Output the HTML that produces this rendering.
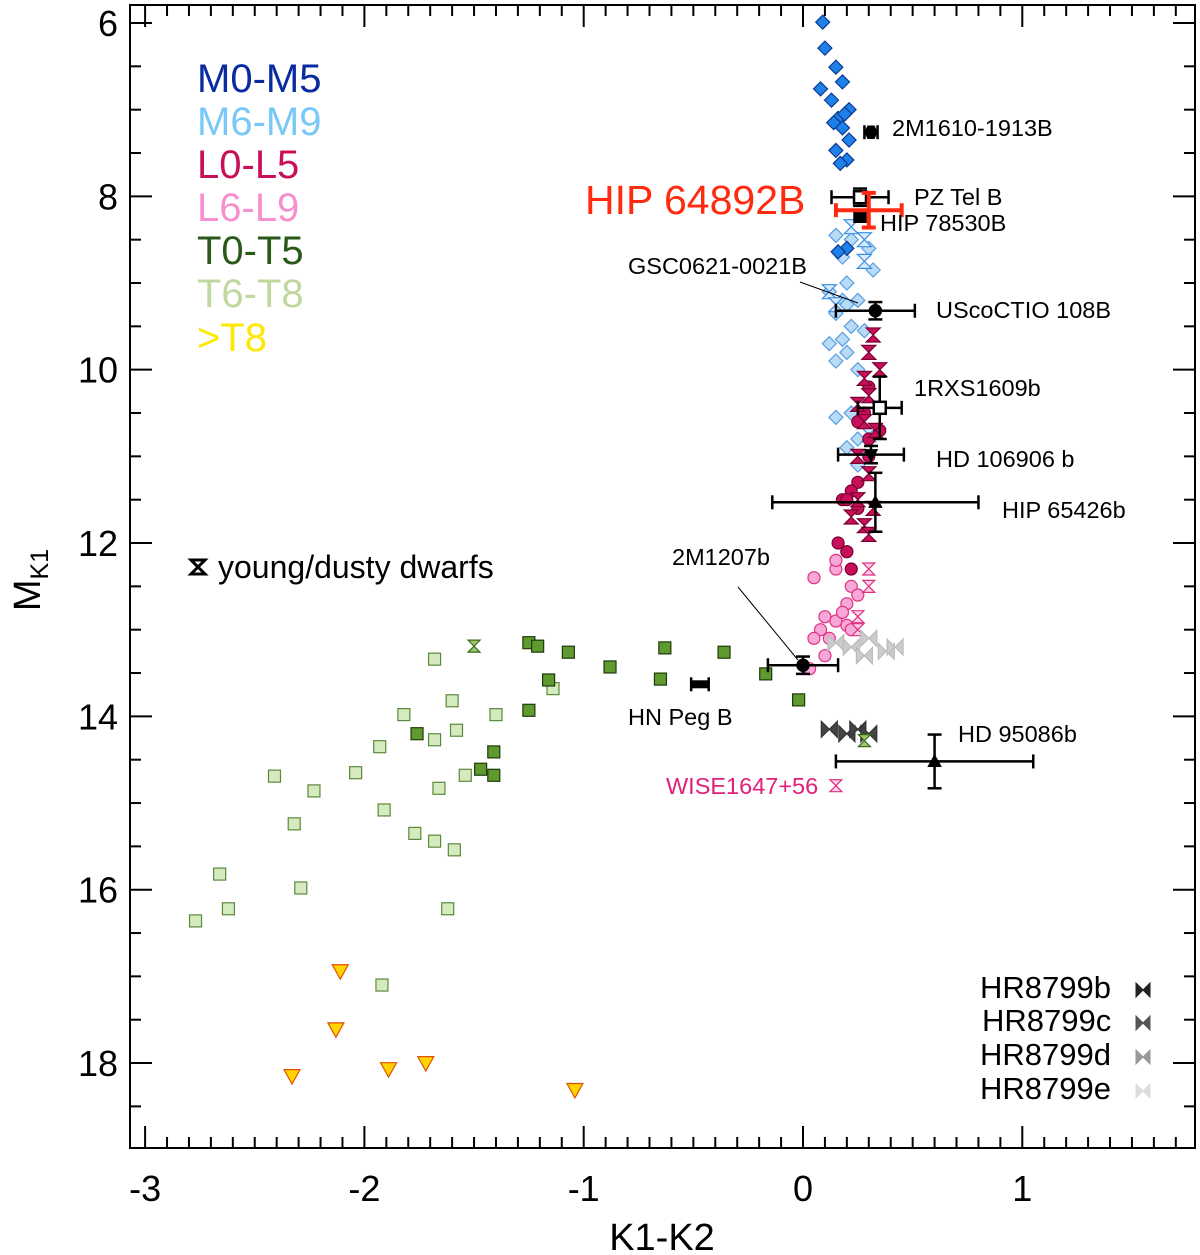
<!DOCTYPE html>
<html><head><meta charset="utf-8"><style>
body{margin:0;background:#fff}
svg{display:block;font-family:"Liberation Sans",Arial,sans-serif}
</style></head><body>
<svg id="chart" width="1200" height="1255" viewBox="0 0 1200 1255">
<g id="axes"></g>
<g id="marks"></g>
<g id="annot"></g>
</svg>
<script>
const xTicks=[-3,-2,-1,0,1];
const yTicks=[6,8,10,12,14,16,18];
const m0m5=[[0.09,5.99],[0.10,6.29],[0.15,6.51],[0.18,6.68],[0.08,6.76],[0.13,6.89],[0.16,7.10],[0.21,7.00],[0.18,7.21],[0.21,7.35],[0.15,7.47],[0.20,7.58],[0.17,7.62],[0.20,8.60],[0.16,8.64],[0.14,7.15],[0.19,7.05]];
const m6m9=[[0.15,8.45],[0.22,8.5],[0.30,8.6],[0.18,8.7],[0.32,8.85],[0.2,9.0],[0.12,9.1],[0.25,9.2],[0.15,9.35],[0.22,9.5],[0.28,9.55],[0.18,9.65],[0.12,9.7],[0.2,9.8],[0.15,9.9],[0.25,10.0],[0.22,10.5],[0.15,10.55],[0.25,10.8],[0.2,10.9],[0.25,11.1],[0.18,9.2],[0.2,9.25]];
const m6m9Y=[[0.22,8.35],[0.28,8.5],[0.12,9.1],[0.15,9.25],[0.3,10.75],[0.28,8.75]];
const l0l5=[[0.16,12.0],[0.2,12.1],[0.22,12.3],[0.25,11.3],[0.3,11.0],[0.22,11.4],[0.18,11.5],[0.25,11.6],[0.3,10.2],[0.28,10.5],[0.3,10.8],[0.25,10.6],[0.35,10.7],[0.2,11.5]];
const l0l5Y=[[0.32,9.6],[0.3,9.8],[0.35,10.0],[0.28,10.1],[0.3,10.3],[0.25,10.4],[0.28,10.6],[0.33,10.7],[0.25,11.0],[0.3,11.2],[0.25,11.5],[0.32,11.6],[0.28,11.8],[0.3,11.9],[0.22,11.7]];
const l6l9=[[0.05,12.4],[0.15,12.3],[0.2,12.1],[0.22,12.5],[0.2,12.7],[0.1,12.85],[0.15,12.9],[0.08,13.0],[0.12,13.1],[0.2,12.95],[0.05,13.1],[0.25,12.6],[0.1,13.3],[0.03,13.45],[0.18,12.8],[0.22,13.0],[0.15,12.2]];
const l6l9Y=[[0.3,12.3],[0.3,12.5],[0.25,12.85],[0.25,13.0],[0.15,14.8]];
const t0t5=[[-1.25,13.15],[-1.21,13.19],[-1.07,13.26],[-0.88,13.43],[-0.63,13.21],[-0.36,13.26],[-1.16,13.58],[-1.25,13.93],[-0.65,13.57],[-0.17,13.51],[-0.02,13.81],[-1.76,14.20],[-1.41,14.41],[-1.47,14.61],[-1.41,14.68]];
const t0t5Y=[[-1.50,13.19],[0.28,14.28]];
const t6t8=[[-1.68,13.34],[-1.14,13.68],[-1.60,13.82],[-1.82,13.98],[-1.40,13.98],[-1.58,14.16],[-1.68,14.27],[-1.93,14.35],[-2.04,14.65],[-1.54,14.68],[-2.41,14.69],[-2.23,14.86],[-1.66,14.83],[-1.91,15.08],[-2.32,15.24],[-1.77,15.35],[-1.68,15.44],[-1.59,15.54],[-2.66,15.82],[-2.29,15.98],[-2.62,16.22],[-2.77,16.36],[-1.62,16.22],[-1.92,17.10]];
const yT8=[[-2.11,16.94],[-2.13,17.61],[-2.33,18.15],[-1.89,18.07],[-1.72,18.00],[-1.04,18.31]];
const hrLight=[[0.15,13.15],[0.22,13.2],[0.3,13.1],[0.38,13.25],[0.42,13.2],[0.28,13.3]];
const hrDark=[[0.12,14.15],[0.2,14.2],[0.25,14.15],[0.3,14.2]];
const objX=[0.31,0.26,0.26,0.30,0.33,0.35,0.31,0.33,0.0,-0.47,0.60];
const objY=[7.26,8.01,8.23,8.16,9.32,10.44,10.98,11.53,13.41,13.63,14.52];
const objXe=[0.03,0.13,0.0,0.15,0.18,0.10,0.15,0.47,0.16,0.04,0.45];
const objYe=[0.0,0.1,0.0,0.2,0.1,0.36,0.1,0.34,0.1,0.0,0.31];
const objM=['hex','osq','sq','none','circ','osq','tdown','tup','circ','none','tup'];

const NS='http://www.w3.org/2000/svg';
const X=v=>803+v*219.3, Y=v=>23+(v-6)*86.67;
const L=130,R=1195,T=5,B=1148;
function el(p,tag,a){const e=document.createElementNS(NS,tag);for(const k in a)e.setAttribute(k,a[k]);p.appendChild(e);return e;}
const ax=document.getElementById('axes'),mk=document.getElementById('marks'),an=document.getElementById('annot');
const frame=el(ax,'rect',{x:L,y:T,width:R-L,height:B-T,fill:'none',stroke:'#000','stroke-width':2});

for(let v=-3.0;v<=1.75;v+=0.1){const big=Math.abs(v-Math.round(v))<1e-6;const l=big?22:11;const x=X(v);
 el(ax,'line',{x1:x,x2:x,y1:B,y2:B-l,stroke:'#000','stroke-width':2});el(ax,'line',{x1:x,x2:x,y1:T,y2:T+l,stroke:'#000','stroke-width':2});}
for(let v=6;v<=18.9;v+=0.5){const big=v%2===0;const l=big?22:11;const y=Y(v);
 el(ax,'line',{x1:L,x2:L+l,y1:y,y2:y,stroke:'#000','stroke-width':2});el(ax,'line',{x1:R,x2:R-l,y1:y,y2:y,stroke:'#000','stroke-width':2});}
xTicks.forEach(v=>{const t=el(ax,'text',{x:X(v),y:1201,'font-size':36,'text-anchor':'middle'});t.textContent=v;
 });
yTicks.forEach(v=>{const t=el(ax,'text',{x:118,y:Y(v)+13,'font-size':36,'text-anchor':'end'});t.textContent=v;
 });
const xt=el(ax,'text',{x:662,y:1250,'font-size':38,'text-anchor':'middle'});xt.textContent='K1-K2';

const yt=el(ax,'text',{transform:'translate(40,580) rotate(-90)','font-size':38,'text-anchor':'middle'});
yt.innerHTML='M<tspan font-size="25" dy="8">K1</tspan>';


function marker(g,type,x,y,s,fill,stroke,sw){let e;
 if(type==='diam')e=el(g,'path',{d:`M${x},${y-s}L${x+s},${y}L${x},${y+s}L${x-s},${y}Z`});
 else if(type==='circ')e=el(g,'circle',{cx:x,cy:y,r:s});
 else if(type==='sq'||type==='osq')e=el(g,'rect',{x:x-s,y:y-s,width:2*s,height:2*s});
 else if(type==='hg')e=el(g,'path',{d:`M${x-s},${y-s}L${x+s},${y-s}L${x-s},${y+s}L${x+s},${y+s}Z`});
 else if(type==='bt')e=el(g,'path',{d:`M${x-s},${y-s}L${x+s},${y+s}L${x+s},${y-s}L${x-s},${y+s}Z`});
 else if(type==='tdown')e=el(g,'path',{d:`M${x-s},${y-s*0.8}L${x+s},${y-s*0.8}L${x},${y+s}Z`});
 else if(type==='tup')e=el(g,'path',{d:`M${x-s},${y+s*0.8}L${x+s},${y+s*0.8}L${x},${y-s}Z`});
 else if(type==='hex')e=el(g,'path',{d:`M${x-s},${y}L${x-s/2},${y-s}L${x+s/2},${y-s}L${x+s},${y}L${x+s/2},${y+s}L${x-s/2},${y+s}Z`});
 else return;
 e.setAttribute('fill',fill);e.setAttribute('stroke',stroke);e.setAttribute('stroke-width',sw||1.2);return e;}
function series(name,arr,type,s,fill,stroke){const g=el(mk,'g',{});
 arr.forEach(p=>{const e=marker(g,type,X(p[0]),Y(p[1]),s,fill,stroke);});}
series('m6-m9-series',m6m9,'diam',7,'#b8dcf8','#5a9ee0');
series('m6-m9-young',m6m9Y,'hg',7,'#d8ecfc','#3a8ee0');
series('m0-m5-series',m0m5,'diam',7,'#1e80e8','#0a3a90');
series('l6-l9-series',l6l9,'circ',6,'#f8a8d8','#e0307f');
series('l6-l9-young',l6l9Y,'hg',6,'#fcd0ea','#e0307f');
series('l0-l5-series',l0l5,'circ',6,'#c8105a','#7a0030');
series('l0-l5-young',l0l5Y,'hg',7,'#c8105a','#7a0030');
series('hr8799-light',hrLight,'bt',8,'#cccccc','#bbbbbb');
series('hr8799-dark',hrDark,'bt',8,'#444444','#333333');
series('t6-t8-series',t6t8,'sq',6,'#d6eabf','#5a8a3a');
series('t0-t5-series',t0t5,'sq',6,'#5e9a2e','#1e3a0a');
series('t0-t5-young',t0t5Y,'hg',6,'#9cc870','#3a6a1a');
series('gt-t8-series',yT8,'tdown',8,'#ffd400','#e05000');

objX.forEach((vx,i)=>{const g=el(mk,'g',{});
 const c=i===3?'#ff2a10':'#000',w=i===3?4:2.5,x=X(vx),y=Y(objY[i]);
 if(objXe[i]>0){const x1=X(vx-objXe[i]),x2=X(vx+objXe[i]);el(g,'line',{x1,x2,y1:y,y2:y,stroke:c,'stroke-width':w});
  el(g,'line',{x1,x2:x1,y1:y-7,y2:y+7,stroke:c,'stroke-width':w});el(g,'line',{x1:x2,x2,y1:y-7,y2:y+7,stroke:c,'stroke-width':w});}
 if(objYe[i]>0){const y1=Y(objY[i]-objYe[i]),y2=Y(objY[i]+objYe[i]);el(g,'line',{x1:x,x2:x,y1,y2,stroke:c,'stroke-width':w});
  el(g,'line',{x1:x-7,x2:x+7,y1,y2:y1,stroke:c,'stroke-width':w});el(g,'line',{x1:x-7,x2:x+7,y1:y2,y2,stroke:c,'stroke-width':w});}
 const m=objM[i];if(m==='osq')marker(g,m,x,y,6,'#fff','#000',2.5);else if(m!=='none')marker(g,m,x,y,6,'#000','#000',1.5);
 if(i===9)el(g,'rect',{x:x-9,y:y-4,width:18,height:8,fill:'#000'});
});

const leg=[['M0-M5','#0a2aa0',78],['M6-M9','#7ac8f8',121],['L0-L5','#c8105a',164],['L6-L9','#f890d0',207],['T0-T5','#2a5a1a',250],['T6-T8','#c0d8a0',293],['>T8','#ffe800',337]];
leg.forEach(l=>{const t=el(an,'text',{x:197,y:l[2]+14,'font-size':40,fill:l[1]});t.textContent=l[0];
 });
const labels=[['2M1610-1913B',892,136,'#000',23.5],['PZ Tel B',914,205,'#000',23.5],['HIP 78530B',880,231,'#000',23.5],['GSC0621-0021B',628,274,'#000',23.5],['UScoCTIO 108B',936,318,'#000',23.5],['1RXS1609b',914,396,'#000',23.5],['HD 106906 b',936,467,'#000',23.5],['HIP 65426b',1002,518,'#000',23.5],['2M1207b',672,565,'#000',23.5],['HN Peg B',628,725,'#000',23.5],['HD 95086b',958,742,'#000',23.5],['WISE1647+56',666,794,'#e0207a',23.5],['HIP 64892B',585,214,'#ff2a10',41],['young/dusty dwarfs',218,578,'#000',32],['HR8799b',980,998,'#000',31],['HR8799c',982,1031,'#000',31],['HR8799d',980,1065,'#000',31],['HR8799e',980,1099,'#000',31]];
labels.forEach(l=>{const t=el(an,'text',{x:l[1],y:l[2],'font-size':l[4],fill:l[3]});t.textContent=l[0];
 });
el(an,'line',{x1:800,y1:282,x2:858,y2:303,stroke:'#000','stroke-width':1});
el(an,'line',{x1:738,y1:587,x2:798,y2:660,stroke:'#000','stroke-width':1});
marker(an,'hg',198,567,7,'#fff','#000',3);
[['#222',990],['#555',1023],['#999',1057],['#ddd',1091]].forEach(h=>{const e=marker(an,'bt',1143,h[1],7,h[0],h[0],1);
 });
</script>
</body></html>
